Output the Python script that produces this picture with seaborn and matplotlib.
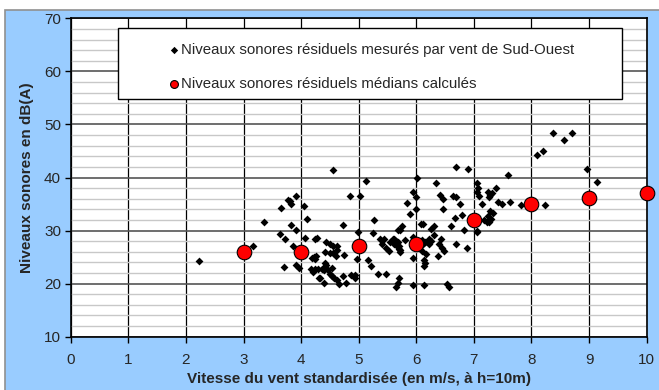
import numpy as np
import pandas as pd
import matplotlib
matplotlib.use('Agg')
import matplotlib.pyplot as plt
from matplotlib.patches import Rectangle
import seaborn as sns

# mesures individuelles (vitesse m/s, niveau dB(A))
vent = [2.22, 3.17, 3.36, 3.65, 3.78, 3.82, 3.92, 3.82, 3.91, 3.63, 3.72, 3.86, 3.70, 3.91, 3.96,
        4.05, 4.10, 4.07, 3.80,
        4.24, 4.27, 4.19, 4.22, 4.17, 4.24, 4.30, 4.37, 4.43, 4.41, 4.41, 4.44, 4.31, 4.39, 4.47,
        4.56, 4.85, 4.73, 4.50, 4.55, 4.62, 4.50, 4.55, 4.60, 4.63, 4.75, 4.26, 4.24, 4.53, 4.39,
        4.32, 4.50, 4.54, 4.57, 4.62, 4.66, 4.73, 4.78, 4.87, 4.93, 4.93, 4.97, 4.99, 4.38, 4.20,
        5.02, 5.13, 5.27, 5.24, 5.37, 5.44, 5.61, 5.69, 5.40, 5.47, 5.53, 5.70, 5.72, 5.17, 5.21,
        5.34, 5.47, 5.65, 5.69, 5.70, 5.95, 5.84, 5.89, 5.99, 5.95, 5.99, 6.02, 5.75, 5.72, 5.95,
        5.60, 5.64, 5.68, 5.62, 5.66, 5.70, 5.72, 5.95, 5.55, 5.80,
        6.09, 6.12, 6.25, 6.30, 6.34, 6.41, 6.46, 6.46, 6.64, 6.69, 6.76, 6.69, 6.90, 6.79, 6.67,
        6.61, 6.83, 6.10, 6.15, 6.22, 6.26, 6.12, 6.22, 6.10, 6.17, 6.43, 6.40, 6.45, 6.48, 6.69,
        6.88, 6.38, 6.14, 6.13, 6.15, 6.14, 6.53, 6.57, 6.30,
        7.06, 7.08, 7.06, 7.09, 7.14, 7.25, 7.28, 7.31, 7.27, 7.42, 7.48, 7.28, 7.34, 7.25, 7.30,
        7.27, 7.06, 7.05, 7.18, 7.22, 7.38, 7.63, 7.81, 8.23, 7.60, 8.09, 8.20, 8.38, 8.56, 8.70,
        8.97, 9.13]
niveau = [24.3, 27.0, 31.6, 34.2, 35.8, 35.0, 36.6, 31.1, 30.1, 29.3, 28.4, 27.0, 23.1, 23.6, 22.9,
          34.7, 32.2, 28.6, 35.6,
          28.4, 28.6, 24.8, 25.0, 22.8, 22.8, 22.8, 22.8, 27.9, 26.0, 23.8, 23.5, 21.1, 20.2, 22.6,
          41.4, 36.6, 31.1, 27.5, 27.1, 27.1, 25.8, 25.8, 25.2, 26.3, 25.4, 25.3, 24.7, 22.9, 22.6,
          21.0, 21.8, 21.4, 21.1, 20.6, 19.9, 21.4, 20.2, 21.6, 21.6, 21.0, 24.6, 29.8, 22.8, 22.2,
          36.6, 39.3, 31.9, 29.5, 28.4, 28.4, 28.4, 30.2, 27.4, 26.8, 26.1, 27.0, 26.4, 24.4, 23.3,
          21.9, 21.9, 19.4, 20.2, 21.0, 19.7, 35.2, 33.1, 34.1, 37.3, 36.4, 40.0, 30.8, 30.2, 28.8,
          28.4, 28.1, 27.9, 27.4, 27.0, 26.6, 25.9, 24.8, 27.9, 28.2,
          31.2, 31.3, 30.3, 30.9, 38.9, 36.7, 35.9, 34.0, 36.6, 36.4, 35.1, 41.9, 41.6, 32.9, 32.3,
          30.9, 30.1, 28.3, 27.9, 28.5, 28.0, 27.4, 27.4, 26.1, 25.6, 28.5, 27.4, 26.7, 26.2, 27.5,
          26.8, 25.2, 24.4, 23.3, 23.8, 19.7, 19.9, 19.4, 29.2,
          38.9, 38.1, 37.3, 36.5, 35.1, 37.3, 36.7, 37.1, 36.3, 35.4, 35.0, 33.7, 33.3, 32.8, 32.2,
          31.6, 30.0, 29.7, 31.9, 31.7, 38.0, 35.4, 34.9, 34.9, 40.5, 44.2, 45.0, 48.4, 47.1, 48.4,
          41.6, 39.1]

# médianes calculées par classe de vent
vent_med = [3, 4, 5, 6, 7, 8, 9, 10]
niveau_med = [26.0, 26.0, 27.0, 27.5, 32.0, 35.0, 36.2, 37.0]

mesures = pd.DataFrame({'vent': vent, 'niveau': niveau})
medianes = pd.DataFrame({'vent': vent_med, 'niveau': niveau_med})

sns.set_style('white')
plt.rcParams['font.family'] = ['Liberation Sans', 'DejaVu Sans']

fig = plt.figure(figsize=(6.59, 3.90), dpi=100)
fig.patch.set_facecolor('white')
fig.patches.append(Rectangle((5 / 659, -0.01), 1, 1 - 10 / 390 + 0.01, transform=fig.transFigure,
                             facecolor='#99CCFF', edgecolor='#909090', linewidth=1.2, zorder=-1))
ax = fig.add_axes([0.1073, 0.1367, 0.8740, 0.8163])
ax.set_zorder(2)
ax.set_facecolor('white')

sns.scatterplot(data=mesures, x='vent', y='niveau', ax=ax, marker='D', s=16, color='black',
                edgecolor='black', linewidth=0, zorder=3,
                label='Niveaux sonores résiduels mesurés par vent de Sud-Ouest')
sns.scatterplot(data=medianes, x='vent', y='niveau', ax=ax, marker='o', s=110, color='#FF0000',
                edgecolor='black', linewidth=0.8, zorder=4, clip_on=False,
                label='Niveaux sonores résiduels médians calculés')

ax.set_xlim(0, 10)
ax.set_ylim(10, 70)
ax.set_xticks(range(0, 11))
ax.set_yticks(range(10, 71, 10))
ax.set_yticks(range(10, 71, 2), minor=True)
ax.grid(True, which='minor', axis='y', color='#c8c8c8', linewidth=1.0)
ax.grid(True, which='major', axis='y', color='#555555', linewidth=1.2)
ax.grid(True, which='major', axis='x', color='black', linewidth=0.9)
ax.set_axisbelow(True)
for s in ax.spines.values():
    s.set_color('black')
    s.set_linewidth(1.2)
ax.tick_params(axis='both', which='major', direction='out', length=4, width=1.0,
               labelsize=11, color='black', pad=3, bottom=True, left=True)
ax.tick_params(axis='x', pad=8)
ax.tick_params(axis='y', which='minor', length=0)

ax.set_xlabel('Vitesse du vent standardisée (en m/s, à h=10m)', fontsize=11, fontweight='bold', labelpad=3)
ax.set_ylabel('Niveaux sonores en dB(A)', fontsize=11, fontweight='bold', labelpad=7)

# cadre de la légende
ax.add_patch(Rectangle((0.082, 0.7466), 0.875, 0.223, transform=ax.transAxes,
                       facecolor='white', edgecolor='black', linewidth=1.0, zorder=8))
leg = ax.legend(loc='upper left', bbox_to_anchor=(0.137, 0.975), frameon=False,
                fontsize=10.8, labelspacing=1.35, handletextpad=0.0, handlelength=1.0,
                borderpad=0.6)
leg.legend_handles[0].set_sizes([14])
leg.legend_handles[1].set_sizes([32])
leg.set_zorder(10)

fig.savefig('out.png', dpi=100)
